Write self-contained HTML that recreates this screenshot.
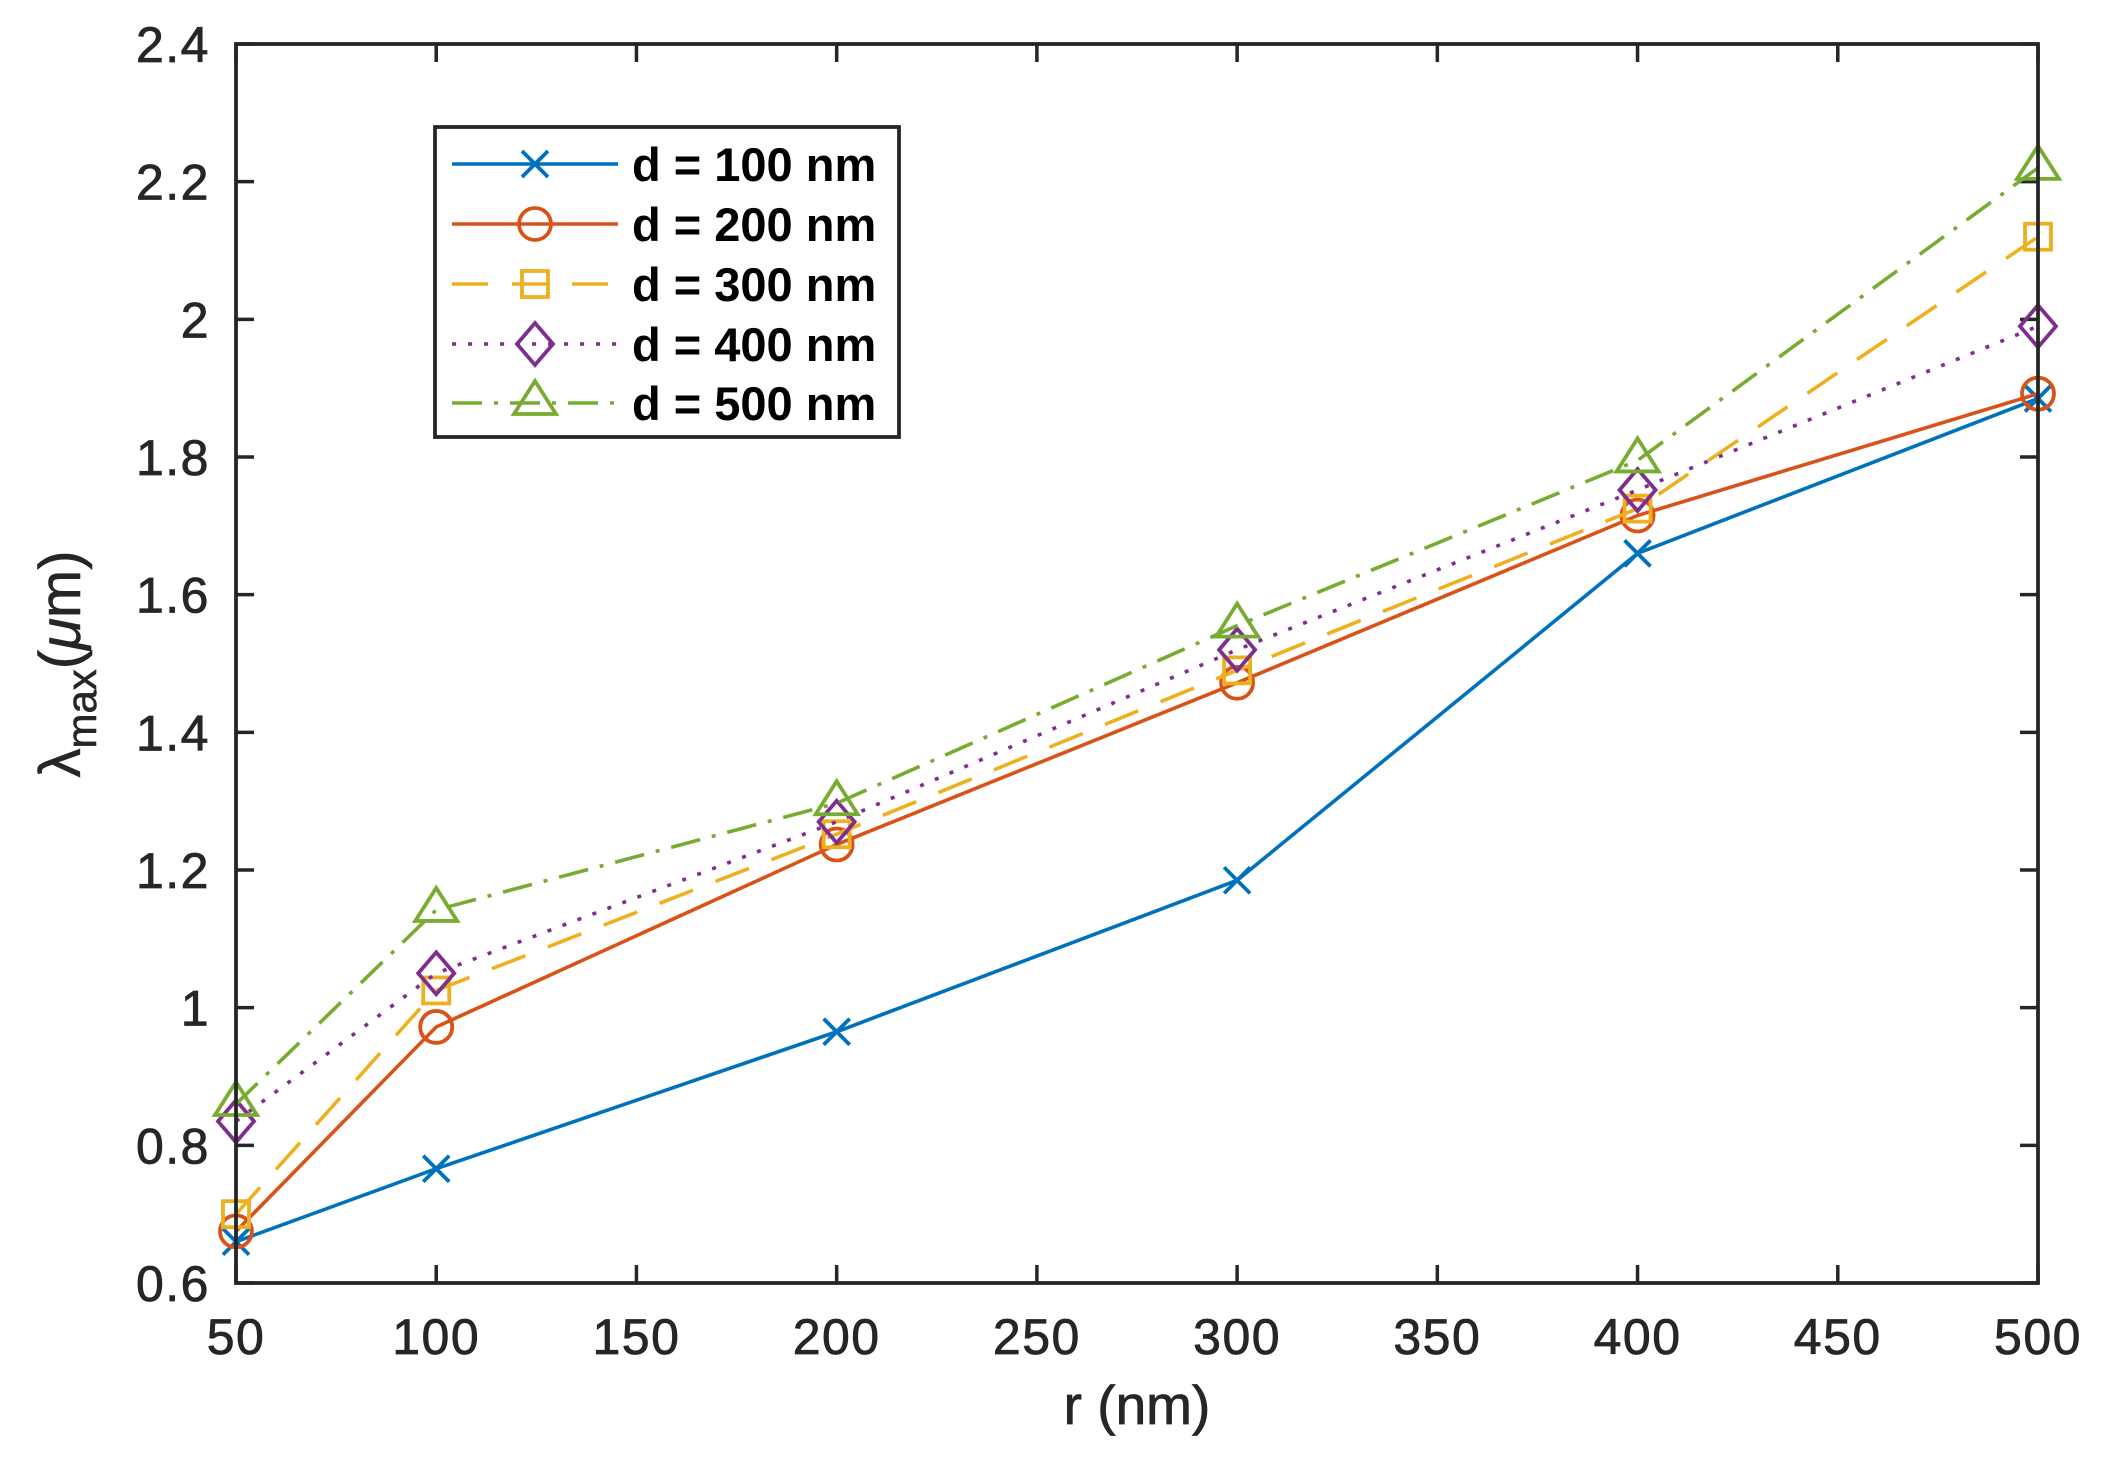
<!DOCTYPE html><html><head><meta charset="utf-8"><style>body{margin:0;background:#fff}svg{display:block}</style></head><body>
<svg id="s" width="2103" height="1460" xmlns="http://www.w3.org/2000/svg" font-family="Liberation Sans, Arial, sans-serif" fill="#262626"></svg>
<script>
const L=236,R=2038,T=44,B=1283;
const X=v=>L+(v-50)*(R-L)/450, Y=v=>B-(v-0.6)*(B-T)/1.8;
let h='';
const xs=[50,100,200,300,400,500];
const S=[
{c:'#0072BD',d:'',m:'x',v:[0.66,0.766,0.965,1.185,1.66,1.885]},
{c:'#D95319',d:'',m:'o',v:[0.675,0.972,1.237,1.472,1.715,1.892]},
{c:'#EDB120',d:'36,24',m:'s',v:[0.70,1.025,1.252,1.49,1.725,2.12]},
{c:'#7E2F8E',d:'4,12',m:'d',v:[0.835,1.05,1.27,1.52,1.752,1.99]},
{c:'#77AC30',d:'30,12,4,12',m:'t',v:[0.86,1.142,1.297,1.555,1.795,2.22]}];
function mk(m,x,y,c){
 const a=`stroke="${c}" stroke-width="3.8" fill="none"`;
 if(m=='x')return `<path d="M${x-13},${y-13}L${x+13},${y+13}M${x-13},${y+13}L${x+13},${y-13}" ${a}/>`;
 if(m=='o')return `<circle cx="${x}" cy="${y}" r="16" ${a}/>`;
 if(m=='s')return `<rect x="${x-13}" y="${y-13}" width="26" height="26" ${a}/>`;
 if(m=='d')return `<path d="M${x},${y-21}L${x+18},${y}L${x},${y+21}L${x-18},${y}Z" ${a}/>`;
 return `<path d="M${x},${y-22}L${x+21},${y+11}L${x-21},${y+11}Z" ${a}/>`;
}
const tf=`font-size="50" stroke="#262626" stroke-width="0.8" letter-spacing="1.5"`;
for(let v=50;v<=500;v+=50){const x=X(v);h+=`<path d="M${x},${B}v-18M${x},${T}v18" stroke="#262626" stroke-width="3.5"/>`;h+=`<text x="${x}" y="1354" ${tf} text-anchor="middle">${v}</text>`;}
for(let i=0;i<=9;i++){const v=0.6+i*0.2,y=Y(v);h+=`<path d="M${L},${y}h18M${R},${y}h-18" stroke="#262626" stroke-width="3.5"/>`;let t=(Math.round(v*10)/10).toString();h+=`<text x="210" y="${y+18}" ${tf} text-anchor="end">${t}</text>`;}
S.forEach(s=>{const p=xs.map((x,i)=>X(x)+','+Y(s.v[i])).join(' ');h+=`<polyline points="${p}" fill="none" stroke="${s.c}" stroke-width="3.6" ${s.d?`stroke-dasharray="${s.d}"`:''}/>`;xs.forEach((x,i)=>h+=mk(s.m,X(x),Y(s.v[i]),s.c));});
h+=`<rect x="${L}" y="${T}" width="${R-L}" height="${B-T}" fill="none" stroke="#262626" stroke-width="3.8"/>`;
h+=`<rect x="435" y="127" width="464" height="310" fill="#fff" stroke="#262626" stroke-width="3.8"/>`;
const ly=[164,224,284,344,403];
S.forEach((s,i)=>{h+=`<line x1="452" x2="618" y1="${ly[i]}" y2="${ly[i]}" stroke="${s.c}" stroke-width="3.6" ${s.d?`stroke-dasharray="${s.d}"`:''}/>`+mk(s.m,535,ly[i],s.c);h+=`<text x="632" y="${ly[i]+17}" font-size="47" font-weight="bold" fill="#000">d = ${(i+1)*100} nm</text>`;});
h+=`<text x="1137" y="1424" font-size="55" stroke="#262626" stroke-width="0.8" text-anchor="middle">r (nm)</text>`;
h+=`<text transform="translate(80,664) rotate(-90)" font-size="58" stroke="#262626" stroke-width="0.6" text-anchor="middle">λ<tspan font-size="42" dy="16">max</tspan><tspan dy="-16">(<tspan font-style="italic">μ</tspan>m)</tspan></text>`;
document.getElementById('s').innerHTML=h;
</script></body></html>
